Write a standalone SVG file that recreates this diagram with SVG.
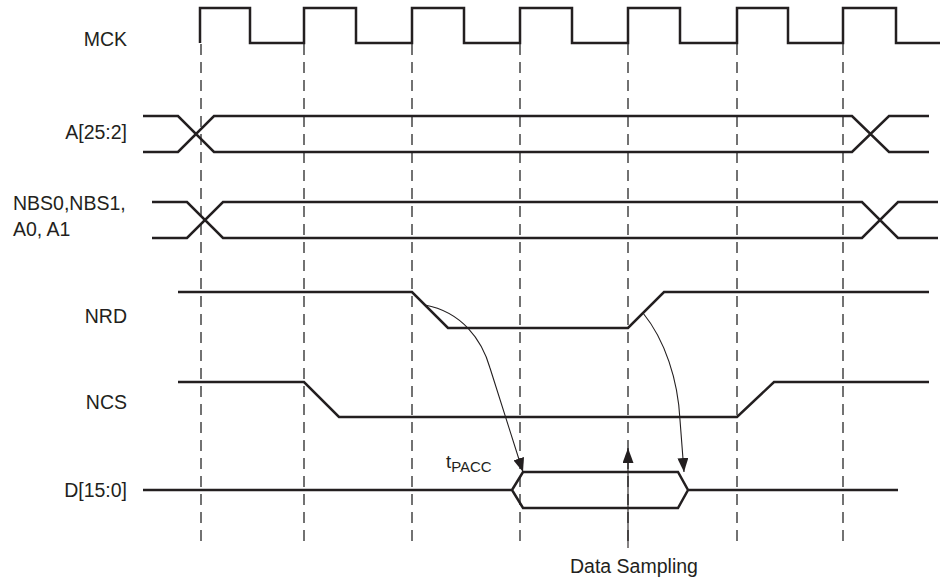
<svg xmlns="http://www.w3.org/2000/svg" width="940" height="580" viewBox="0 0 940 580">
<style>
.sig{fill:none;stroke:#231f20;stroke-width:2.5;stroke-linejoin:miter}
.grid{fill:none;stroke:#444;stroke-width:1.5;stroke-dasharray:11 7}
.lbl{font-family:"Liberation Sans",Arial,sans-serif;font-size:19.5px;fill:#231f20}
.con{fill:none;stroke:#231f20;stroke-width:1.1}
</style>
<defs>
<marker id="ah" markerUnits="userSpaceOnUse" markerWidth="14" markerHeight="11" viewBox="0 0 14 11" refX="14" refY="5.5" orient="auto">
<path d="M0 0 L14 5.5 L0 11 Z" fill="#231f20"/>
</marker>
<marker id="ah2" markerUnits="userSpaceOnUse" markerWidth="15" markerHeight="11" viewBox="0 0 15 11" refX="15" refY="5.5" orient="auto">
<path d="M0 0 L15 5.5 L0 11 Z" fill="#231f20"/>
</marker>
</defs>
<rect width="940" height="580" fill="#fff"/>
<g id="gridlines">
<path class="grid" d="M201 44 V547 M304 44 V547 M412 44 V547 M520 44 V547 M628 44 V547 M737 44 V547 M843 44 V547"/>
</g>
<g id="mck">
<text class="lbl" x="127" y="46" text-anchor="end">MCK</text>
<path class="sig" d="M200 43 V8 H250 V43 H304 V8 H356 V43 H412 V8 H464 V43 H520 V8 H572 V43 H628 V8 H680 V43 H737 V8 H788 V43 H843 V8 H896 V43 H940"/>
</g>
<g id="addr">
<text class="lbl" x="127" y="139" text-anchor="end">A[25:2]</text>
<path class="sig" d="M143 116 H178 L214 152 H852 L889 116 H929 M143 152 H178 L214 116 H852 L889 152 H929"/>
</g>
<g id="nbs">
<text class="lbl" x="13" y="210">NBS0,NBS1,</text>
<text class="lbl" x="13" y="236">A0, A1</text>
<path class="sig" d="M152 202 H187 L223 238 H862 L898 202 H938 M152 238 H187 L223 202 H862 L898 238 H938"/>
</g>
<g id="nrd">
<text class="lbl" x="127" y="323" text-anchor="end">NRD</text>
<path class="sig" d="M178 292 H412 L448 328 H628 L664 292 H929"/>
</g>
<g id="ncs">
<text class="lbl" x="127" y="409" text-anchor="end">NCS</text>
<path class="sig" d="M178 382 H304 L339 417 H737 L774 382 H929"/>
</g>
<g id="data">
<text class="lbl" x="127" y="497" text-anchor="end">D[15:0]</text>
<path class="sig" d="M143 490 H512 M688 490 H898 M512 490 L523 472 H678 L688 490 L678 508 H523 Z"/>
</g>
<g id="tpacc">
<text class="lbl" x="446" y="468" style="font-size:18.5px">t<tspan dy="4" style="font-size:15px">PACC</tspan></text>
</g>
<g id="sampling">
<text class="lbl" x="570" y="573">Data Sampling</text>
</g>
<g id="connectors">
<path class="con" marker-end="url(#ah)" d="M425 305 C462 312 482 340 490 368 L523 472"/>
<path class="con" marker-end="url(#ah)" d="M643 313 C665 340 678 380 680 420 L684 472"/>
<path class="con" marker-end="url(#ah2)" d="M628 548 V448"/>
</g>
</svg>
